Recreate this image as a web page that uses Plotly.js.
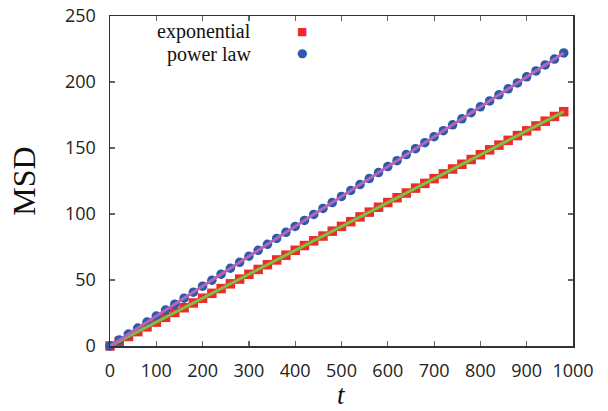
<!DOCTYPE html>
<html>
<head>
<meta charset="utf-8">
<script src="https://cdn.plot.ly/plotly-3.0.1.min.js"></script>
<style>html,body{margin:0;padding:0;background:#fff;}#chart{width:608px;height:411px;}</style>
</head>
<body>
<div id="chart"></div>
<script>
var t = [0,20,40,60,80,100,120,140,160,180,200,220,240,260,280,300,320,340,360,380,400,420,440,460,480,500,520,540,560,580,600,620,640,660,680,700,720,740,760,780,800,820,840,860,880,900,920,940,960,980];
var msdExponential = [0,3.6,7.2,10.9,14.5,18.1,21.7,25.4,29.0,32.6,36.2,39.9,43.5,47.1,50.7,54.3,58.0,61.6,65.2,68.8,72.5,76.1,79.7,83.3,87.0,90.6,94.2,97.8,101.4,105.1,108.7,112.3,115.9,119.6,123.2,126.8,130.4,134.1,137.7,141.3,144.9,148.6,152.2,155.8,159.4,163.0,166.7,170.3,173.9,177.5];
var msdPowerLaw = [0,4.5,9.1,13.6,18.1,22.7,27.2,31.7,36.2,40.8,45.3,49.8,54.4,58.9,63.4,68.0,72.5,77.0,81.5,86.1,90.6,95.1,99.7,104.2,108.7,113.3,117.8,122.3,126.8,131.4,135.9,140.4,145.0,149.5,154.0,158.6,163.1,167.6,172.1,176.7,181.2,185.7,190.3,194.8,199.3,203.9,208.4,212.9,217.4,222.0];
var fitT = [0, 980];
var fitExponential = [0, 177.5];
var fitPowerLaw = [0, 222.0];
var seriesNames = ["exponential", "power law"];
var xTitle = "<i>t</i>";
var yTitle = "MSD";
var xTicks = [0,100,200,300,400,500,600,700,800,900,1000];
var yTicks = [0,50,100,150,200,250];

var red = "#ee2b2b", blue = "#2a5aa8", green = "#7cc142", purple = "#b565b8";

var traces = [
  {x: t, y: msdExponential, mode: "markers", type: "scatter", name: seriesNames[0],
   marker: {symbol: "square", size: 9.5, color: red}, cliponaxis: false},
  {x: t, y: msdPowerLaw, mode: "markers", type: "scatter", name: seriesNames[1],
   marker: {symbol: "circle", size: 9.5, color: blue}, cliponaxis: false},
  {x: fitT, y: fitExponential, mode: "lines", type: "scatter", line: {color: green, width: 3}, cliponaxis: false},
  {x: fitT, y: fitPowerLaw, mode: "lines", type: "scatter", line: {color: purple, width: 3}, cliponaxis: false}
];

var tickFont = {family: "Open Sans, DejaVu Sans, sans-serif", size: 18, color: "#222"};
var serif = "Liberation Serif, Times New Roman, serif";

var axisCommon = {
  showgrid: false, zeroline: false, showline: true, linecolor: "#333", linewidth: 1.5,
  mirror: "ticks", ticks: "inside", ticklen: 5, tickwidth: 1.2, tickcolor: "#666",
  tickfont: tickFont
};

var layout = {
  width: 608, height: 411,
  margin: {l: 110, r: 35, t: 16, b: 65},
  paper_bgcolor: "#fff", plot_bgcolor: "#fff",
  showlegend: false,
  xaxis: Object.assign({}, axisCommon, {range: [0, 1000], tickvals: xTicks, ticktext: xTicks.map(String),
    ticklabelstandoff: 8}),
  yaxis: Object.assign({}, axisCommon, {range: [0, 250], tickvals: yTicks, ticktext: yTicks.map(String),
    ticklabelstandoff: 9,
    title: {text: yTitle, font: {family: serif, size: 32, color: "#111"}, standoff: 20}}),
  annotations: [
    {xref: "paper", yref: "paper", x: 0.5, y: -0.1485, xanchor: "center", yanchor: "middle", showarrow: false,
     borderpad: 0, text: xTitle, font: {family: serif, size: 27, color: "#111"}},
    {xref: "paper", yref: "paper", x: 0.308, y: 0.952, xanchor: "right", yanchor: "middle", showarrow: false,
     text: seriesNames[0], font: {family: serif, size: 20, color: "#111"}},
    {xref: "paper", yref: "paper", x: 0.308, y: 0.884, xanchor: "right", yanchor: "middle", showarrow: false,
     text: seriesNames[1], font: {family: serif, size: 20, color: "#111"}},
    {xref: "paper", yref: "paper", x: 0.415, y: 0.952, xanchor: "center", yanchor: "middle", showarrow: false,
     text: "■", font: {family: "DejaVu Sans", size: 11, color: red}},
    {xref: "paper", yref: "paper", x: 0.415, y: 0.888, xanchor: "center", yanchor: "middle", showarrow: false,
     text: "●", font: {family: "DejaVu Sans", size: 12, color: blue}}
  ]
};

Plotly.newPlot("chart", traces, layout, {displayModeBar: false, staticPlot: true});
</script>
</body>
</html>
